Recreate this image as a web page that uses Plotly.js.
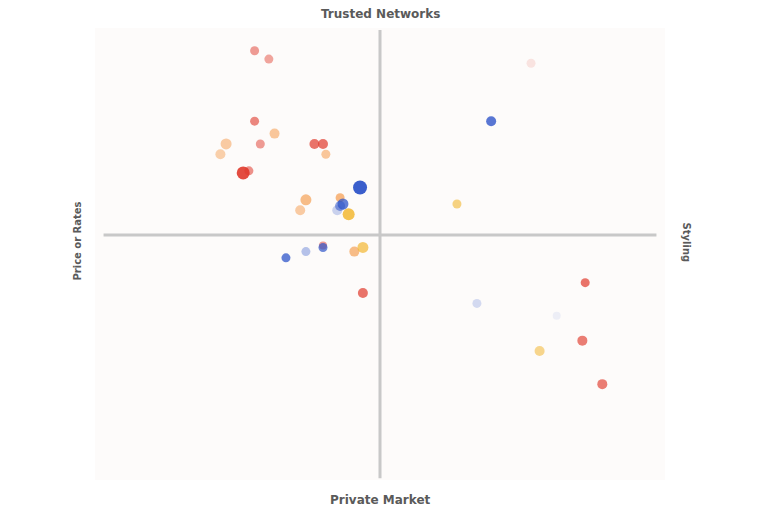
<!DOCTYPE html>
<html><head><meta charset="utf-8">
<script src="https://cdn.plot.ly/plotly-3.0.1.min.js"></script>
<style>body{margin:0;background:#fff}#c{width:768px;height:512px}</style>
</head><body><div id="c"></div>
<script>
// Data (x, y in -1..1 quadrant space)
const redX = [-0.44, -0.39, -0.44, -0.42, -0.23, -0.20, -0.48, -0.46, -0.06, 0.72, 0.71, 0.78, 0.53, -0.20];
const redY = [0.89, 0.85, 0.55, 0.44, 0.44, 0.44, 0.30, 0.31, -0.28, -0.23, -0.51, -0.72, 0.83, -0.05];
const redSize = [9, 9, 9, 9, 10, 10, 13, 9, 10, 9, 10, 10, 9, 8];
const redAlpha = [0.5, 0.45, 0.6, 0.5, 0.7, 0.7, 0.9, 0.55, 0.7, 0.7, 0.65, 0.65, 0.12, 0.5];

const orangeX = [-0.37, -0.54, -0.56, -0.19, -0.26, -0.28, -0.14, -0.09];
const orangeY = [0.49, 0.44, 0.39, 0.39, 0.17, 0.12, 0.18, -0.08];
const orangeSize = [10, 11, 10, 9, 11, 10, 9, 10];
const orangeAlpha = [0.55, 0.5, 0.45, 0.55, 0.65, 0.5, 0.7, 0.65];

const yellowX = [-0.11, -0.06, 0.27, 0.56];
const yellowY = [0.10, -0.06, 0.15, -0.56];
const yellowSize = [12, 11, 9, 10];
const yellowAlpha = [0.85, 0.7, 0.6, 0.55];

const blueX = [-0.07, 0.39, -0.13, -0.14, -0.15, -0.33, -0.26, -0.20, 0.34, 0.62];
const blueY = [0.23, 0.55, 0.15, 0.14, 0.12, -0.11, -0.08, -0.06, -0.33, -0.39];
const blueSize = [14, 10, 11, 10, 10, 9, 9, 9, 9, 8];
const blueAlpha = [0.95, 0.8, 0.75, 0.55, 0.25, 0.75, 0.35, 0.7, 0.2, 0.08];

const axisLabels = ["Trusted Networks", "Private Market", "Price or Rates", "Styling"];

function tr(x, y, s, a, c) {
  return {type: 'scatter', mode: 'markers', x: x, y: y, hoverinfo: 'skip',
    marker: {size: s, opacity: a, color: c, line: {width: 0}}};
}
const data = [
  tr(orangeX, orangeY, orangeSize, orangeAlpha, '#f59a4a'),
  tr(yellowX, yellowY, yellowSize, yellowAlpha, '#f2b731'),
  tr(redX, redY, redSize, redAlpha, '#e0392b'),
  tr(blueX, blueY, blueSize, blueAlpha, '#2f55c9')
];
const lblFont = {family: 'DejaVu Sans', color: '#5a5a5a'};
const layout = {
  width: 768, height: 512, showlegend: false,
  paper_bgcolor: '#ffffff', plot_bgcolor: '#fdfbfa',
  margin: {l: 95, r: 103, t: 28, b: 32},
  xaxis: {range: [-1, 1], visible: false, fixedrange: true},
  yaxis: {range: [-1.183, 1], visible: false, fixedrange: true},
  shapes: [
    {type: 'line', xref: 'x', yref: 'y', x0: -0.97, x1: 0.97, y0: 0, y1: 0, line: {color: '#c8c8c8', width: 3}, layer: 'below'},
    {type: 'line', xref: 'x', yref: 'y', x0: 0, x1: 0, y0: -1.175, y1: 0.99, line: {color: '#c8c8c8', width: 3}, layer: 'below'}
  ],
  annotations: [
    {text: '<b>' + axisLabels[0] + '</b>', xref: 'paper', yref: 'paper', x: 0.5, y: 1, yshift: 23, showarrow: false, font: Object.assign({size: 12}, lblFont)},
    {text: '<b>' + axisLabels[1] + '</b>', xref: 'paper', yref: 'paper', x: 0.5, y: 0, yshift: -29, showarrow: false, font: Object.assign({size: 12}, lblFont)},
    {text: '<b>' + axisLabels[2] + '</b>', xref: 'paper', yref: 'y', x: 0, y: 0, xshift: -25, yshift: -6, showarrow: false, textangle: -90, font: Object.assign({size: 10}, lblFont)},
    {text: '<b>' + axisLabels[3] + '</b>', xref: 'paper', yref: 'y', x: 1, y: 0, xshift: 29, yshift: -7, showarrow: false, textangle: 90, font: Object.assign({size: 10}, lblFont)}
  ]
};
Plotly.newPlot('c', data, layout, {displayModeBar: false, staticPlot: true});
</script></body></html>
